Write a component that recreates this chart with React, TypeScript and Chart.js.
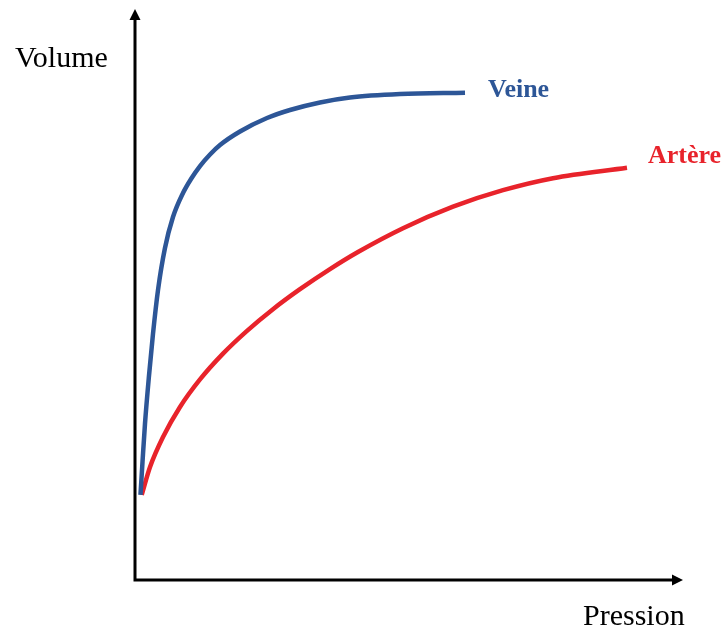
import React, { useEffect, useRef } from "react";
import { Chart, registerables } from "chart.js";

Chart.register(...registerables);

// Pression (arbitrary units 0..100) and Volume (0..100)
const veinePression = [1.0, 1.37, 1.82, 2.55, 3.28, 4.2, 5.47, 6.93, 8.76, 10.22, 11.86, 13.69, 15.51, 19.16, 24.09, 28.28, 33.76, 39.23, 48.36, 60.22];
const veineVolume = [14.89, 20.67, 27.32, 35.73, 43.08, 50.79, 58.14, 63.57, 67.78, 70.23, 72.5, 74.52, 76.18, 78.55, 80.91, 82.31, 83.63, 84.5, 85.11, 85.34];

const artPression = [1.22, 2.74, 5.11, 8.21, 11.86, 16.06, 20.44, 25.18, 30.11, 35.58, 40.69, 48.91, 58.03, 67.15, 76.28, 89.78];
const artVolume = [14.89, 19.79, 25.04, 30.3, 35.13, 39.65, 43.64, 47.43, 50.93, 54.45, 57.44, 61.61, 65.38, 68.27, 70.37, 72.19];

const seriesNames = ["Veine", "Artère"];
const seriesColors = ["#2D5697", "#E8232B"];
const axisTitles = { x: "Pression", y: "Volume" };

const annotPlugin = {
  id: "annot",
  afterDatasetsDraw(chart: any) {
    const ctx = chart.ctx;
    const a = chart.chartArea;
    ctx.save();
    // axes
    ctx.strokeStyle = "#000";
    ctx.fillStyle = "#000";
    ctx.lineWidth = 3;
    ctx.lineCap = "butt";
    ctx.beginPath();
    ctx.moveTo(a.left, a.top + 8);
    ctx.lineTo(a.left, a.bottom);
    ctx.lineTo(a.right - 8, a.bottom);
    ctx.stroke();
    // arrow heads
    ctx.beginPath();
    ctx.moveTo(a.left, a.top);
    ctx.lineTo(a.left - 5.5, a.top + 11);
    ctx.lineTo(a.left + 5.5, a.top + 11);
    ctx.closePath();
    ctx.fill();
    ctx.beginPath();
    ctx.moveTo(a.right, a.bottom);
    ctx.lineTo(a.right - 11, a.bottom - 5.5);
    ctx.lineTo(a.right - 11, a.bottom + 5.5);
    ctx.closePath();
    ctx.fill();

    // axis titles
    ctx.textBaseline = "alphabetic";
    ctx.textAlign = "left";
    ctx.font = "30px 'Liberation Serif'";
    ctx.fillStyle = "#000";
    ctx.fillText(axisTitles.y, a.left - 120, a.top + 58);
    ctx.fillText(axisTitles.x, a.right - 100, a.bottom + 45);

    // series labels next to curve ends
    const xs = chart.scales.x;
    const ys = chart.scales.y;
    ctx.font = "bold 26px 'Liberation Serif'";
    const ends = [
      [veinePression[veinePression.length - 1], veineVolume[veineVolume.length - 1]],
      [artPression[artPression.length - 1], artVolume[artVolume.length - 1]],
    ];
    const offsets = [
      [23, 4],
      [21, -5],
    ];
    ends.forEach((e, i) => {
      ctx.fillStyle = seriesColors[i];
      ctx.fillText(
        seriesNames[i],
        xs.getPixelForValue(e[0]) + offsets[i][0],
        ys.getPixelForValue(e[1]) + offsets[i][1]
      );
    });
    ctx.restore();
  },
};

export default function App() {
  const ref = useRef<HTMLCanvasElement>(null);
  useEffect(() => {
    if (!ref.current) return;
    const chart = new Chart(ref.current, {
      type: "line",
      data: {
        datasets: [
          {
            label: seriesNames[0],
            data: veinePression.map((x, i) => ({ x, y: veineVolume[i] })),
            borderColor: seriesColors[0],
            borderWidth: 4.5,
            pointRadius: 0,
            cubicInterpolationMode: "monotone",
            borderCapStyle: "butt",
          },
          {
            label: seriesNames[1],
            data: artPression.map((x, i) => ({ x, y: artVolume[i] })),
            borderColor: seriesColors[1],
            borderWidth: 4.5,
            pointRadius: 0,
            cubicInterpolationMode: "monotone",
            borderCapStyle: "butt",
          },
        ],
      },
      options: {
        animation: false,
        responsive: false,
        devicePixelRatio: 1,
        layout: { padding: { left: 135, right: 43, top: 9, bottom: 51 } },
        plugins: { legend: { display: false }, tooltip: { enabled: false } },
        scales: {
          x: { type: "linear", min: 0, max: 100, display: false },
          y: { type: "linear", min: 0, max: 100, display: false },
        },
      },
      plugins: [annotPlugin],
    } as any);
    return () => chart.destroy();
  }, []);
  return (
    <div style={{ position: "fixed", left: 0, top: 0, width: 726, height: 631, background: "#fff" }}>
      <canvas ref={ref} width={726} height={631} style={{ display: "block" }} />
    </div>
  );
}
